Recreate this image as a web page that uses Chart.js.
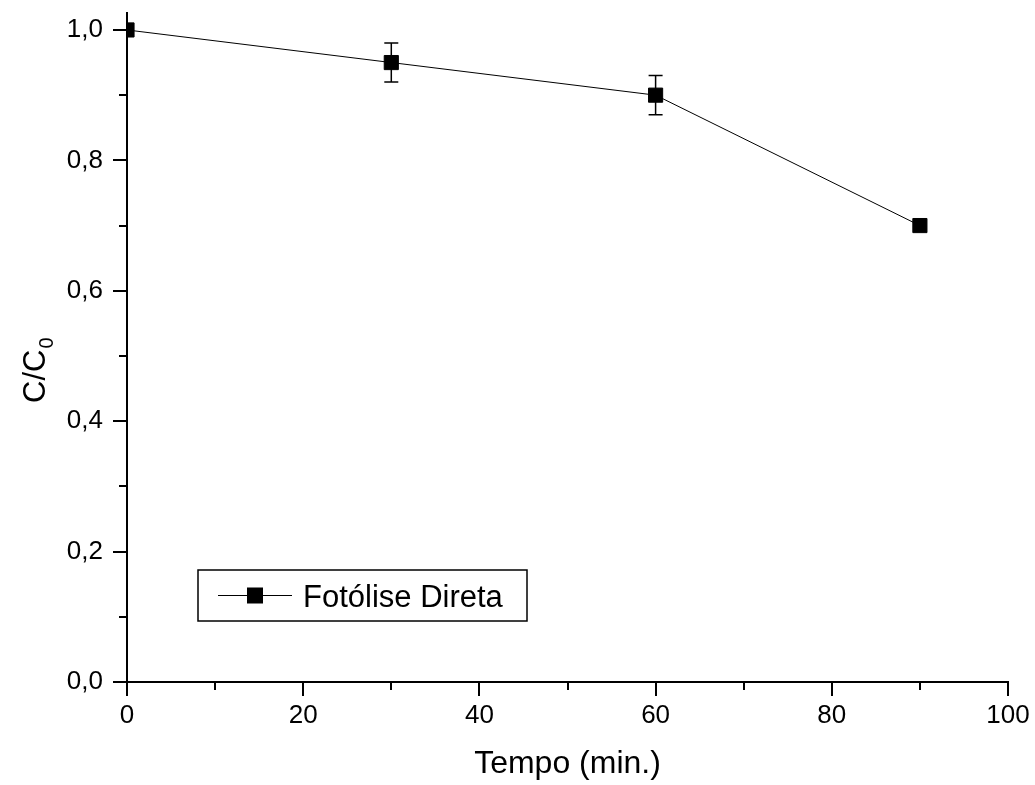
<!DOCTYPE html>
<html>
<head>
<meta charset="utf-8">
<script src="https://cdn.jsdelivr.net/npm/chart.js@4.4.1/dist/chart.umd.min.js"></script>
<style>
  html, body { margin: 0; padding: 0; background: #fff; }
</style>
</head>
<body>
<canvas id="chart" width="1035" height="785"></canvas>
<script>
// dados
const tempo = [0, 30, 60, 90];
const cc0 = [1.0, 0.95, 0.90, 0.70];
const erro = [0, 0.03, 0.03, 0];
const xTicks = [0, 20, 40, 60, 80, 100];
const yTicks = [0, 0.2, 0.4, 0.6, 0.8, 1.0];
const serieNome = 'Fotólise Direta';
const xTitulo = 'Tempo (min.)';
const yTitulo = 'C/C';
const yTituloSub = '0';

const FONT = "'Liberation Sans', Arial, sans-serif";

// barras de erro
const errorBars = {
  id: 'errorBars',
  afterDatasetsDraw(chart) {
    const { ctx, scales: { x, y } } = chart;
    ctx.save();
    ctx.strokeStyle = '#000';
    ctx.lineWidth = 1.5;
    tempo.forEach((t, i) => {
      if (!erro[i]) return;
      const px = x.getPixelForValue(t);
      const top = y.getPixelForValue(cc0[i] + erro[i]);
      const bot = y.getPixelForValue(cc0[i] - erro[i]);
      ctx.beginPath();
      ctx.moveTo(px, top); ctx.lineTo(px, bot);
      ctx.moveTo(px - 7, top); ctx.lineTo(px + 7, top);
      ctx.moveTo(px - 7, bot); ctx.lineTo(px + 7, bot);
      ctx.stroke();
    });
    ctx.restore();
  }
};

// ticks maiores e menores, pra fora
const axisTicks = {
  id: 'axisTicks',
  afterDraw(chart) {
    const { ctx, chartArea, scales: { x, y } } = chart;
    ctx.save();
    ctx.strokeStyle = '#000';
    ctx.lineWidth = 2;
    ctx.beginPath();
    for (let v = 0; v <= 100; v += 10) {
      const px = Math.round(x.getPixelForValue(v));
      const len = v % 20 === 0 ? 14 : 8;
      ctx.moveTo(px, chartArea.bottom);
      ctx.lineTo(px, chartArea.bottom + len);
    }
    for (let k = 0; k <= 10; k++) {
      const py = Math.round(y.getPixelForValue(k / 10));
      const len = k % 2 === 0 ? 14 : 8;
      ctx.moveTo(chartArea.left, py);
      ctx.lineTo(chartArea.left - len, py);
    }
    ctx.stroke();
    ctx.restore();
  }
};

// titulo do eixo y com subscrito
const yTitle = {
  id: 'yTitle',
  afterDraw(chart) {
    const { ctx } = chart;
    ctx.save();
    ctx.translate(45, 403);
    ctx.rotate(-Math.PI / 2);
    ctx.fillStyle = '#000';
    ctx.textBaseline = 'alphabetic';
    ctx.font = '31px ' + FONT;
    ctx.fillText(yTitulo, 0, 0);
    const w = ctx.measureText(yTitulo).width;
    ctx.font = '20px ' + FONT;
    ctx.fillText(yTituloSub, w + 1, 8);
    ctx.restore();
  }
};

// legenda com caixa dentro do grafico
const legendBox = {
  id: 'legendBox',
  afterDraw(chart) {
    const { ctx } = chart;
    const ds = chart.data.datasets[0];
    ctx.save();
    ctx.strokeStyle = '#000';
    ctx.lineWidth = 1.5;
    ctx.strokeRect(198, 570, 329, 51);
    const cy = 595.5;
    ctx.lineWidth = 1;
    ctx.beginPath();
    ctx.moveTo(218, cy); ctx.lineTo(292, cy);
    ctx.stroke();
    ctx.fillStyle = '#000';
    ctx.fillRect(247, cy - 8, 16, 16);
    ctx.font = '31px ' + FONT;
    ctx.textBaseline = 'alphabetic';
    ctx.fillText(ds.label, 303, 607);
    ctx.restore();
  }
};

new Chart(document.getElementById('chart'), {
  type: 'line',
  data: {
    datasets: [{
      label: serieNome,
      data: tempo.map((t, i) => ({ x: t, y: cc0[i] })),
      borderColor: '#000',
      borderWidth: 1,
      backgroundColor: '#000',
      pointStyle: 'rect',
      pointRadius: 10,
      pointBorderWidth: 1,
      pointBorderColor: '#000',
      pointBackgroundColor: '#000',
      tension: 0,
    }],
  },
  options: {
    responsive: false,
    animation: false,
    layout: { padding: { top: 13, right: 27, left: 0, bottom: 0 } },
    plugins: {
      legend: { display: false },
      tooltip: { enabled: false },
    },
    scales: {
      x: {
        type: 'linear',
        min: 0,
        max: 100,
        afterBuildTicks: (s) => { s.ticks = xTicks.map((v) => ({ value: v })); },
        afterFit: (s) => { s.height = 103; s.paddingLeft = 0; s.paddingRight = 0; },
        grid: { display: false, drawTicks: false },
        border: { display: true, color: '#000', width: 2 },
        ticks: {
          color: '#000',
          padding: 18,
          maxRotation: 0,
          font: { family: FONT, size: 26 },
          callback: (v) => String(v),
        },
        title: {
          display: true,
          text: xTitulo,
          color: '#000',
          font: { family: FONT, size: 32 },
          padding: { top: 0, bottom: 2 },
        },
      },
      y: {
        min: 0,
        max: 1.026,
        afterBuildTicks: (s) => { s.ticks = yTicks.map((v) => ({ value: v })); },
        afterFit: (s) => { s.width = 127; s.paddingTop = 0; s.paddingBottom = 0; },
        grid: { display: false, drawTicks: false },
        border: { display: true, color: '#000', width: 2 },
        ticks: {
          color: '#000',
          padding: 24,
          font: { family: FONT, size: 26 },
          callback: (v) => v.toFixed(1).replace('.', ','),
        },
      },
    },
  },
  plugins: [errorBars, axisTicks, yTitle, legendBox],
});
</script>
</body>
</html>
